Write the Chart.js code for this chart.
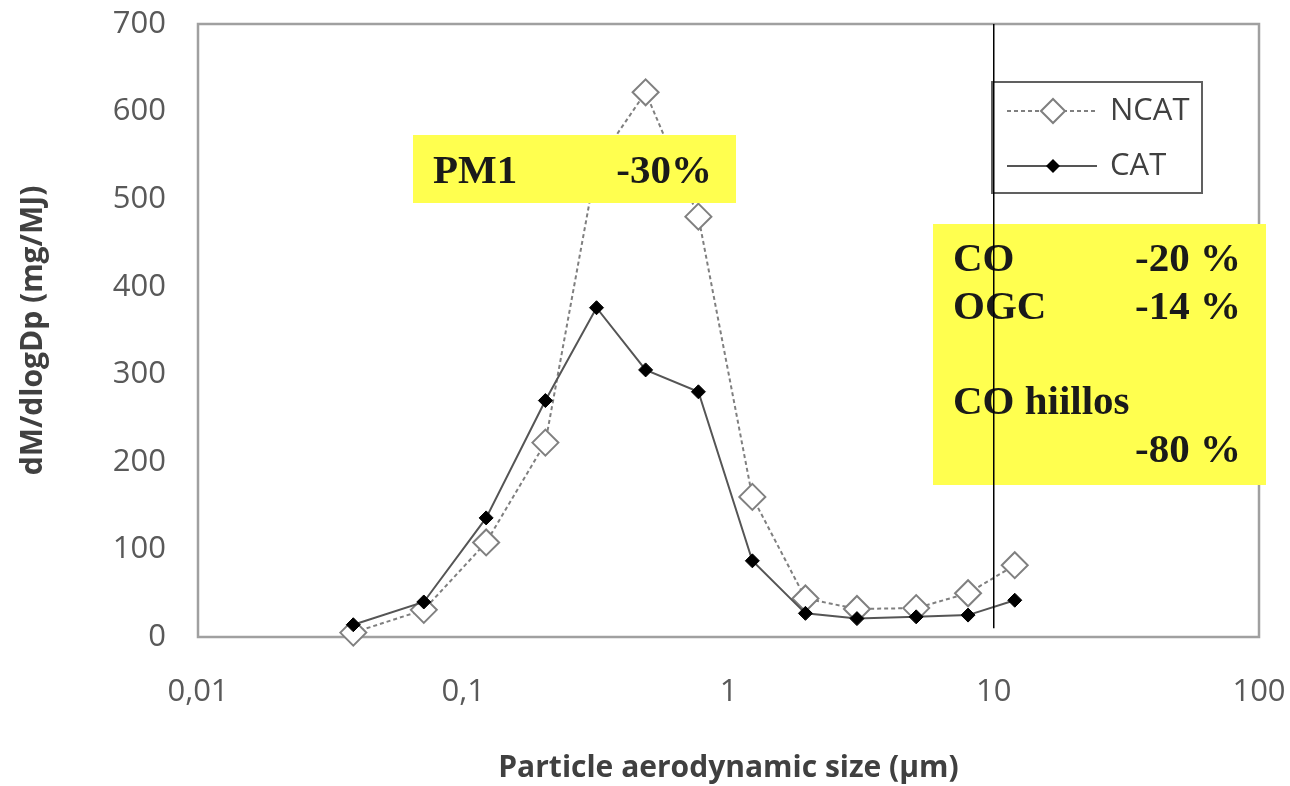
<!DOCTYPE html>
<html>
<head>
<meta charset="utf-8">
<script src="https://cdn.jsdelivr.net/npm/chart.js@4.4.1/dist/chart.umd.min.js"></script>
<style>
  html, body { margin: 0; padding: 0; background: #fff; }
</style>
</head>
<body>
<canvas id="chart" width="1290" height="786"></canvas>
<script>
// particle size (um) and mass size distribution
const sizes = [0.0385, 0.071, 0.122, 0.204, 0.318, 0.487, 0.77, 1.23, 1.95, 3.05, 5.1, 8.0, 12.0];
const ncat = [5, 31, 108, 222, 540, 622, 480, 160, 44, 32, 33, 50, 82];
const cat = [14, 40, 136, 270, 376, 305, 280, 87, 27, 21, 23, 25, 42];
const xTicks = [0.01, 0.1, 1, 10, 100];
const yTicks = [0, 100, 200, 300, 400, 500, 600, 700];
const cutSize = 10;
const cutRange = [10, 700];
const seriesNames = ['NCAT', 'CAT'];
const pm1Note = ['PM1', '-30%'];
const gasNotes = [['CO', '-20 %'], ['OGC', '-14 %'], ['CO hiillos', ''], ['', '-80 %']];

const toXY = vals => vals.map((v, i) => ({ x: sizes[i], y: v }));

const YELLOW = '#ffff4f';
const NOTE_FONT = 'bold 41px "Liberation Serif", serif';

function drawPm1Box(ctx) {
    ctx.save();
    ctx.fillStyle = YELLOW;
    ctx.fillRect(413, 135, 323, 68);
    ctx.fillStyle = '#1a1a1a';
    ctx.font = NOTE_FONT;
    ctx.textBaseline = 'alphabetic';
    ctx.textAlign = 'left';
    ctx.fillText(pm1Note[0], 433, 183);
    ctx.textAlign = 'right';
    ctx.fillText(pm1Note[1], 712, 183);
    ctx.restore();
}

function drawGasBox(ctx) {
    ctx.save();
    ctx.fillStyle = YELLOW;
    ctx.fillRect(933, 224, 333, 261);
    ctx.fillStyle = '#1a1a1a';
    ctx.font = NOTE_FONT;
    const baselines = [271, 319, 414, 462];
    gasNotes.forEach((row, i) => {
        ctx.textAlign = 'left';
        if (row[0]) ctx.fillText(row[0], 953, baselines[i]);
        ctx.textAlign = 'right';
        if (row[1]) ctx.fillText(row[1], 1241, baselines[i]);
    });
    ctx.restore();
}

function drawLegend(ctx) {
    ctx.save();
    ctx.strokeStyle = '#606060';
    ctx.lineWidth = 2;
    ctx.strokeRect(992, 82, 210, 111);
    ctx.font = '31px "Open Sans", sans-serif';
    ctx.textBaseline = 'middle';
    // NCAT
    ctx.strokeStyle = '#7f7f7f';
    ctx.setLineDash([4, 3]);
    ctx.beginPath(); ctx.moveTo(1007, 111); ctx.lineTo(1097, 111); ctx.stroke();
    ctx.setLineDash([]);
    ctx.fillStyle = '#fff';
    ctx.beginPath();
    ctx.moveTo(1041, 111); ctx.lineTo(1053, 99); ctx.lineTo(1065, 111); ctx.lineTo(1053, 123); ctx.closePath();
    ctx.fill(); ctx.stroke();
    ctx.fillStyle = '#404040';
    ctx.fillText(seriesNames[0], 1110, 111);
    // CAT
    ctx.strokeStyle = '#555';
    ctx.beginPath(); ctx.moveTo(1007, 166); ctx.lineTo(1097, 166); ctx.stroke();
    ctx.fillStyle = '#000';
    ctx.beginPath();
    ctx.moveTo(1046, 166); ctx.lineTo(1053, 159); ctx.lineTo(1060, 166); ctx.lineTo(1053, 173); ctx.closePath();
    ctx.fill();
    ctx.fillStyle = '#404040';
    ctx.fillText(seriesNames[1], 1110, 166);
    ctx.restore();
}

const decorations = {
    id: 'decorations',
    beforeDatasetsDraw(chart) {
        const { ctx, chartArea: a } = chart;
        ctx.save();
        ctx.strokeStyle = '#a0a0a0';
        ctx.lineWidth = 2.5;
        ctx.strokeRect(a.left, a.top, a.right - a.left, a.bottom - a.top);
        ctx.restore();
        drawLegend(ctx);
        drawGasBox(ctx);
    },
    afterDatasetsDraw(chart) {
        drawPm1Box(chart.ctx);
    }
};

new Chart(document.getElementById('chart'), {
    type: 'line',
    data: {
        datasets: [
            {
                label: 'cut',
                data: [{ x: cutSize, y: cutRange[0] }, { x: cutSize, y: cutRange[1] }],
                borderColor: '#000',
                borderWidth: 1.5,
                pointRadius: 0,
                order: 0
            },
            {
                label: seriesNames[1],
                data: toXY(cat),
                borderColor: '#555',
                borderWidth: 2,
                pointStyle: 'rectRot',
                pointRadius: 7,
                pointBackgroundColor: '#000',
                pointBorderColor: '#000',
                pointBorderWidth: 1,
                order: 1
            },
            {
                label: seriesNames[0],
                data: toXY(ncat),
                borderColor: '#7f7f7f',
                borderWidth: 2,
                borderDash: [4, 3],
                pointStyle: 'rectRot',
                pointRadius: 13,
                pointBackgroundColor: '#fff',
                pointBorderColor: '#808080',
                pointBorderWidth: 2,
                order: 2
            }
        ]
    },
    options: {
        responsive: false,
        animation: false,
        clip: false,
        layout: { padding: { top: 24, right: 31, left: 0, bottom: 0 } },
        plugins: {
            legend: { display: false },
            tooltip: { enabled: false }
        },
        scales: {
            x: {
                type: 'logarithmic',
                min: 0.01,
                max: 100,
                afterBuildTicks: s => { s.ticks = xTicks.map(v => ({ value: v })); },
                afterFit: s => { s.height = 149; s.paddingLeft = 0; s.paddingRight = 0; },
                grid: { display: false, drawTicks: false },
                border: { display: false },
                ticks: {
                    autoSkip: false,
                    maxRotation: 0,
                    padding: 37,
                    color: '#595959',
                    font: { family: 'Open Sans', size: 31 },
                    callback: v => String(v).replace('.', ',')
                },
                title: {
                    display: true,
                    text: 'Particle aerodynamic size (µm)',
                    color: '#404040',
                    font: { family: 'Open Sans', size: 30, weight: 'bold' },
                    padding: { top: 0, bottom: 0 }
                }
            },
            y: {
                min: 0,
                max: 700,
                afterBuildTicks: s => { s.ticks = yTicks.map(v => ({ value: v })); },
                afterFit: s => { s.width = 198; s.paddingTop = 0; s.paddingBottom = 0; },
                grid: { display: false, drawTicks: false },
                border: { display: false },
                ticks: {
                    padding: 32,
                    color: '#595959',
                    font: { family: 'Open Sans', size: 31 }
                },
                title: {
                    display: true,
                    text: 'dM/dlogDp (mg/MJ)',
                    color: '#404040',
                    font: { family: 'Open Sans', size: 30, weight: 'bold' },
                    padding: { top: 15, bottom: 0 }
                }
            }
        }
    },
    plugins: [decorations]
});
</script>
</body>
</html>
